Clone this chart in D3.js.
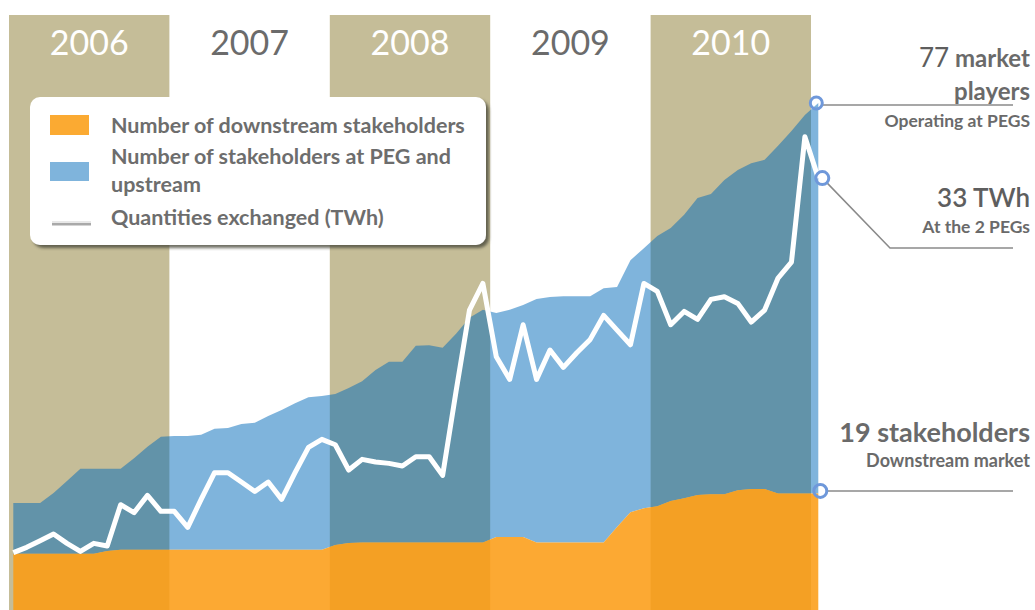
<!DOCTYPE html>
<html><head><meta charset="utf-8">
<script src="https://cdn.jsdelivr.net/npm/d3@7"></script>
<style>
html,body{margin:0;padding:0;background:#fff;}
svg{display:block;font-family:Lato,"Open Sans",sans-serif;}
</style></head><body>
<svg id="chart" width="1035" height="610"></svg>
<script>
// ---- data ----
const years = ["2006","2007","2008","2009","2010"];
const shadedYears = ["2006","2008","2010"];
const months = d3.timeMonth.range(new Date(2006,0,1), new Date(2011,0,2)).map(d3.timeFormat("%Y-%m"));
// number of stakeholders at PEG and upstream (total market players)
const pegUpstream = [17.2,17.2,17.2,18.7,20.5,22.3,22.3,22.3,22.3,23.9,
  25.6,27.1,27.2,27.2,27.4,28.3,28.4,29.0,29.2,30.2,
  31.1,32.1,33.0,33.2,33.5,34.4,35.4,37.1,38.3,38.3,
  40.7,40.8,40.4,42.5,44.9,46.1,45.6,46.1,46.8,47.7,
  48.0,48.1,48.1,48.1,49.3,49.5,53.5,55.3,57.1,58.3,
  60.3,62.8,63.4,65.5,67.0,68.0,68.5,70.6,72.8,75.2,77.0];
// number of downstream stakeholders
const downstream = [9.6,9.6,9.6,9.6,9.6,9.6,9.6,10.0,10.2,10.2,
  10.2,10.2,10.2,10.2,10.2,10.2,10.2,10.2,10.2,10.2,
  10.2,10.2,10.2,10.2,10.9,11.2,11.3,11.3,11.3,11.3,
  11.3,11.3,11.3,11.3,11.3,11.3,12.1,12.1,12.1,11.3,
  11.3,11.3,11.3,11.3,11.3,13.6,15.8,16.4,16.7,17.5,
  17.9,18.4,18.5,18.5,19.1,19.3,19.3,18.6,18.6,18.6,18.6];
// quantities exchanged (TWh)
const twh = [4.9,5.3,5.8,6.3,5.6,5.0,5.6,5.4,8.5,7.9,
  9.2,8.0,8.0,6.8,8.9,10.9,10.9,10.2,9.5,10.2,
  8.9,10.9,12.8,13.4,13.0,11.1,11.9,11.7,11.6,11.4,
  12.1,12.1,10.7,17.0,23.1,25.1,19.6,17.9,22.0,17.9,
  20.1,18.8,19.9,20.9,22.7,21.6,20.5,25.1,24.5,22.0,
  23.0,22.4,23.9,24.1,23.6,22.2,23.1,25.5,26.7,36.1,33.0];
const legendLabels = [["Number of downstream stakeholders"],["Number of stakeholders at PEG and","upstream"],["Quantities exchanged (TWh)"]];
const callouts = [
  {value:77, big:"77", bold:" market", line2:"players", sub:"Operating at PEGS"},
  {value:33, big:"33 TWh", sub:"At the 2 PEGs"},
  {value:19, big:"19 stakeholders", sub:"Downstream market"}
];

// ---- scales ----
const svg = d3.select("#chart");
const W = 1035, H = 610;
const x = d3.scalePoint().domain(months).range([13.3, 818.3]);
const yBand = d3.scaleBand().domain(years).range([9, 811]).padding(0);
const yCount = d3.scaleLinear().domain([0, 80]).range([618, 618 - 80*6.688]);
const yTwh = d3.scaleLinear().domain([0, 40]).range([618, 618 - 40*13.33]);

const tan = "#c5bd98";
svg.selectAll("rect.band").data(shadedYears).join("rect")
  .attr("class","band")
  .attr("x", d => yBand(d)).attr("width", yBand.bandwidth())
  .attr("y", 15).attr("height", H - 15).attr("fill", tan);

const rows = months.map((m,i) => ({m, peg:pegUpstream[i], down:downstream[i], t:twh[i]}));

svg.append("path").datum(rows)
  .attr("d", d3.area().x(d => x(d.m)).y0(d => yCount(d.down)).y1(d => yCount(d.peg)))
  .attr("fill", "rgb(0,105,185)").attr("fill-opacity", 0.5);
svg.append("path").datum(rows)
  .attr("d", d3.area().x(d => x(d.m)).y0(yCount(0)).y1(d => yCount(d.down)))
  .attr("fill", "rgb(252,155,18)").attr("fill-opacity", 0.86);
svg.append("path").datum(rows)
  .attr("d", d3.line().x(d => x(d.m)).y(d => yTwh(d.t)))
  .attr("fill","none").attr("stroke","#fff").attr("stroke-width",5).attr("stroke-linejoin","round");

svg.selectAll("text.year").data(years).join("text")
  .attr("class","year")
  .attr("x", d => yBand(d) + yBand.bandwidth()/2).attr("y", 55)
  .attr("text-anchor","middle").attr("font-size", 34)
  .attr("fill", d => shadedYears.includes(d) ? "#ffffff" : "#6b6b6b")
  .text(d => d);

// legend
const defs = svg.append("defs");
const f = defs.append("filter").attr("id","sh").attr("x","-10%").attr("y","-10%").attr("width","130%").attr("height","130%");
f.append("feDropShadow").attr("dx",3).attr("dy",3).attr("stdDeviation",1.5).attr("flood-color","#4a4a3a").attr("flood-opacity",0.8);
const lg = svg.append("g");
lg.append("rect").attr("x",30).attr("y",97).attr("width",456).attr("height",148).attr("rx",10)
  .attr("fill","#fff").attr("filter","url(#sh)");
lg.append("rect").attr("x",50).attr("y",115).attr("width",39).attr("height",20).attr("fill","#fbaa32");
lg.append("rect").attr("x",50).attr("y",162).attr("width",39).attr("height",19).attr("fill","#7fb4dc");
lg.append("line").attr("x1",52).attr("x2",91).attr("y1",224).attr("y2",224).attr("stroke","#a9a9a9").attr("stroke-width",3);
lg.append("line").attr("x1",52).attr("x2",91).attr("y1",222).attr("y2",222).attr("stroke","#e8e8e8").attr("stroke-width",2);
const legendBase = [[133],[164,192],[225]];
legendLabels.forEach((lines,i) => lines.forEach((t,j) => {
  lg.append("text").attr("x",111).attr("y",legendBase[i][j]).attr("font-size",21.5)
    .attr("font-weight",700).attr("fill","#6d6d6d").text(t);
}));

// callouts
const ring = "#6f98da", lineC = "#8a8a8a", txt = "#6a6a6a";
const xEnd = x(months[months.length-1]);
{
  const c = callouts[0], cy = yCount(c.value), cx = xEnd - 2;
  svg.append("line").attr("x1",cx+6).attr("x2",1013).attr("y1",cy+2).attr("y2",cy+2).attr("stroke",lineC).attr("stroke-width",1.5);
  svg.append("circle").attr("cx",cx).attr("cy",cy).attr("r",6).attr("fill","none").attr("stroke",ring).attr("stroke-width",3);
  const t = svg.append("text").attr("x",1030).attr("y",67).attr("text-anchor","end").attr("fill",txt);
  t.append("tspan").attr("font-size",26).attr("fill","#5e5e5e").text(c.big);
  t.append("tspan").attr("font-size",24).attr("font-weight",700).text(c.bold);
  svg.append("text").attr("x",1030).attr("y",100).attr("text-anchor","end").attr("font-size",24).attr("font-weight",700).attr("fill",txt).text(c.line2);
  svg.append("text").attr("x",1030).attr("y",127).attr("text-anchor","end").attr("font-size",17.5).attr("font-weight",700).attr("fill",txt).text(c.sub);
}
{
  const c = callouts[1], cy = yTwh(c.value), cx = xEnd + 4;
  svg.append("path").attr("d", d3.line()([[cx+4, cy+4],[890,248],[1013,248]]))
    .attr("fill","none").attr("stroke",lineC).attr("stroke-width",1.5);
  svg.append("circle").attr("cx",cx).attr("cy",cy).attr("r",6.5).attr("fill","none").attr("stroke",ring).attr("stroke-width",3);
  svg.append("text").attr("x",1030).attr("y",207).attr("text-anchor","end").attr("font-size",26).attr("fill","#5e5e5e").attr("font-weight",600).text(c.big);
  svg.append("text").attr("x",1030).attr("y",233).attr("text-anchor","end").attr("font-size",17.5).attr("font-weight",700).attr("fill",txt).text(c.sub);
}
{
  const c = callouts[2], cy = yCount(c.value), cx = xEnd + 2;
  svg.append("line").attr("x1",cx+6).attr("x2",1013).attr("y1",cy).attr("y2",cy).attr("stroke",lineC).attr("stroke-width",1.5);
  svg.append("circle").attr("cx",cx).attr("cy",cy).attr("r",6.5).attr("fill","none").attr("stroke",ring).attr("stroke-width",3);
  svg.append("text").attr("x",1030).attr("y",442).attr("text-anchor","end").attr("font-size",27).attr("font-weight",700).attr("fill",txt).text(c.big);
  svg.append("text").attr("x",1030).attr("y",467).attr("text-anchor","end").attr("font-size",18).attr("font-weight",700).attr("fill",txt).text(c.sub);
}
</script>
</body></html>
